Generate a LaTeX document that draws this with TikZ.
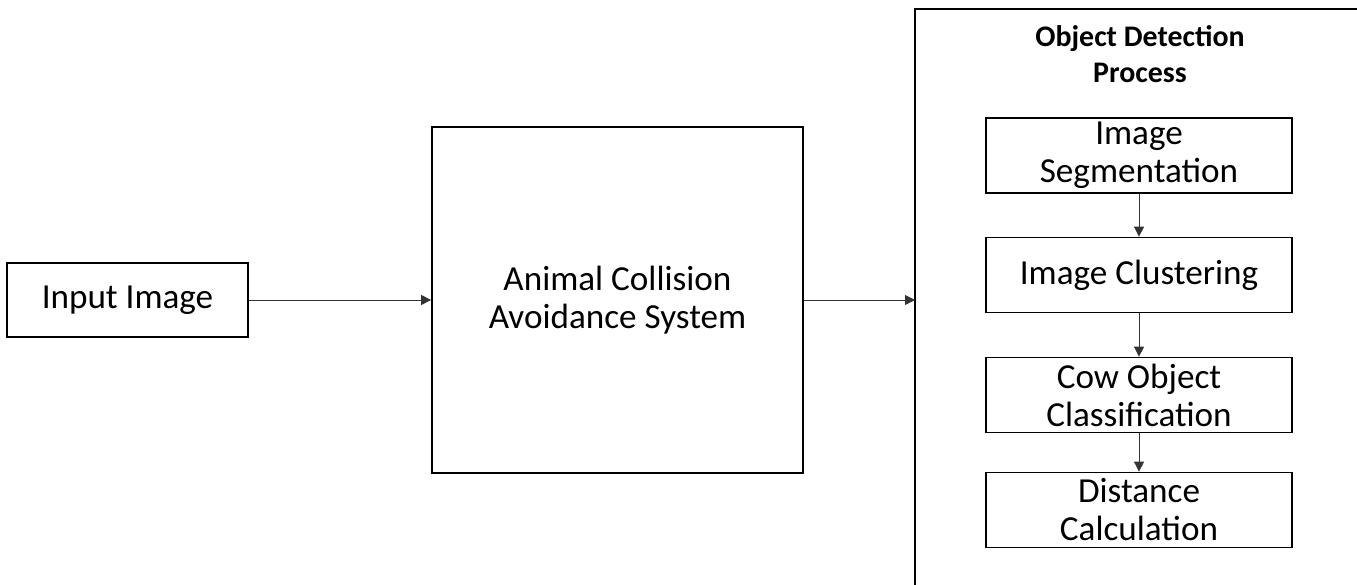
\documentclass[tikz,border=0pt]{standalone}
\usepackage{fontspec}
\setmainfont{Carlito}
\usetikzlibrary{arrows.meta, positioning}

\begin{document}
\begin{tikzpicture}[
    blk/.style={draw, line width=1pt, inner sep=0pt, align=center, font=\fontsize{20}{21.6}\selectfont},
    sub/.style={blk, minimum width=6.12cm, minimum height=1.5cm},
    arr/.style={-{Triangle[length=2mm, width=2mm]}, line width=0.5pt, black!80},
    ttl/.style={align=center, font=\fontsize{17}{20.5}\selectfont\bfseries}]
  \useasboundingbox (0,0) rectangle (27.14,11.70);
  % left part
  \node[blk, minimum width=4.82cm, minimum height=1.48cm] (inp) at (2.55,5.70) {Input Image};
  \node[blk, minimum width=7.42cm, minimum height=6.92cm] (acas) at (12.35,5.70) {Animal Collision\\ Avoidance System};
  % detection panel (runs off the page)
  \draw[line width=1pt] (27.14,11.52) -- (18.30,11.52) -- (18.30,0);
  \coordinate (pin) at (18.30,5.70);
  \node[ttl] (odp) at (22.80,10.62) {Object Detection\\ Process};
  \node[sub] (seg) at (22.78,8.59) {Image\\ Segmentation};
  \node[sub] (clu) at (22.78,6.20) {Image Clustering};
  \node[sub] (cow) at (22.78,3.80) {Cow Object\\ Classification};
  \node[sub] (dist) at (22.78,1.50) {Distance\\ Calculation};
  % arrows
  \draw[arr] (inp.east) -- (acas.west);
  \draw[arr] (acas.east) -- (pin);
  \draw[arr] (seg) -- (clu);
  \draw[arr] (clu) -- (cow);
  \draw[arr] (cow) -- (dist);
\end{tikzpicture}
\end{document}
